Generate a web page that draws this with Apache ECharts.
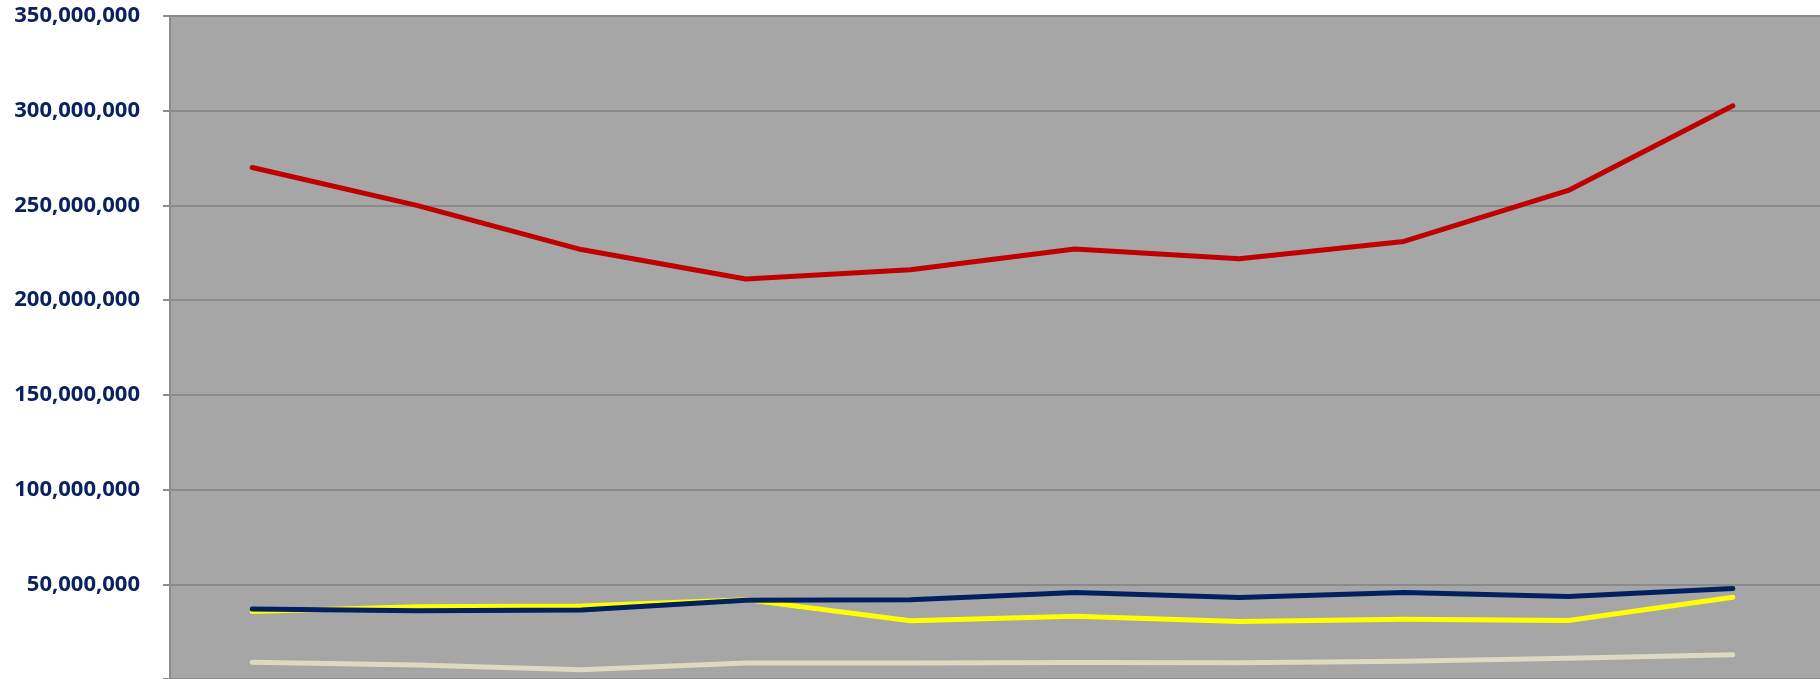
<!DOCTYPE html>
<html>
<head>
<meta charset="utf-8">
<script src="https://cdn.jsdelivr.net/npm/echarts@6/dist/echarts.min.js"></script>
<style>
  html, body { margin: 0; padding: 0; background: #ffffff; }
  #main { width: 1820px; height: 679px; }
</style>
</head>
<body>
<div id="main"></div>
<script>
// Categorías (sin etiquetas visibles en el original)
const categorias = ["1", "2", "3", "4", "5", "6", "7", "8", "9", "10"];

// Valores de cada serie
const serieRoja = [270.0e6, 250.0e6, 226.7e6, 211.2e6, 216.1e6, 227.0e6, 221.9e6, 231.0e6, 257.9e6, 302.6e6];
const serieAzul = [36.9e6, 36.0e6, 36.4e6, 41.6e6, 41.8e6, 45.7e6, 43.0e6, 45.7e6, 43.6e6, 47.8e6];
const serieAmarilla = [35.6e6, 38.1e6, 38.6e6, 41.9e6, 30.7e6, 33.1e6, 30.4e6, 31.6e6, 30.9e6, 43.2e6];
const serieBeige = [8.8e6, 7.4e6, 4.9e6, 8.4e6, 8.4e6, 8.7e6, 8.6e6, 9.4e6, 10.9e6, 12.8e6];

// Marcas del eje Y
const ticksY = [0, 50e6, 100e6, 150e6, 200e6, 250e6, 300e6, 350e6];

const initEChart = () => {
  const chartDom = document.getElementById("main");
  const myChart = echarts.init(chartDom);

  // convierte una serie en pares [índice de categoría, valor]
  const pares = (valores) => valores.map((v, i) => [i, v]);

  const linea = (nombre, valores, color, z) => ({
    name: nombre,
    type: "line",
    data: pares(valores),
    symbol: "none",
    z: z,
    lineStyle: { color: color, width: 5, cap: "round", join: "round" },
    itemStyle: { color: color },
  });

  const option = {
    animation: false,
    grid: {
      left: 170,
      top: 16,
      right: 0,
      height: 664,
      show: true,
      backgroundColor: "#a6a6a6",
      borderWidth: 0,
    },
    xAxis: {
      type: "value",
      min: -0.5,
      max: 9.53,
      show: false,
    },
    yAxis: {
      type: "value",
      min: ticksY[0],
      max: ticksY[ticksY.length - 1],
      interval: ticksY[1] - ticksY[0],
      axisLine: { show: true, onZero: false, lineStyle: { color: "#8c8c8c", width: 2 } },
      axisTick: { show: true, length: 7, lineStyle: { color: "#8c8c8c", width: 2 } },
      splitLine: { show: true, lineStyle: { color: "#8a8a8a", width: 2 } },
      axisLabel: {
        margin: 30,
        color: "#0b2260",
        fontFamily: "Open Sans",
        fontWeight: "bold",
        fontSize: 22,
        formatter: (v) => (v === 0 ? "" : v.toLocaleString("en-US")),
      },
    },
    series: [
      linea("Serie 4", serieBeige, "#ddd9c3", 2),
      linea("Serie 3", serieAmarilla, "#ffff00", 3),
      linea("Serie 2", serieAzul, "#002060", 4),
      linea("Serie 1", serieRoja, "#c00000", 5),
    ],
  };

  myChart.setOption(option);
  return myChart;
};

let chartInstance = initEChart();
</script>
</body>
</html>
